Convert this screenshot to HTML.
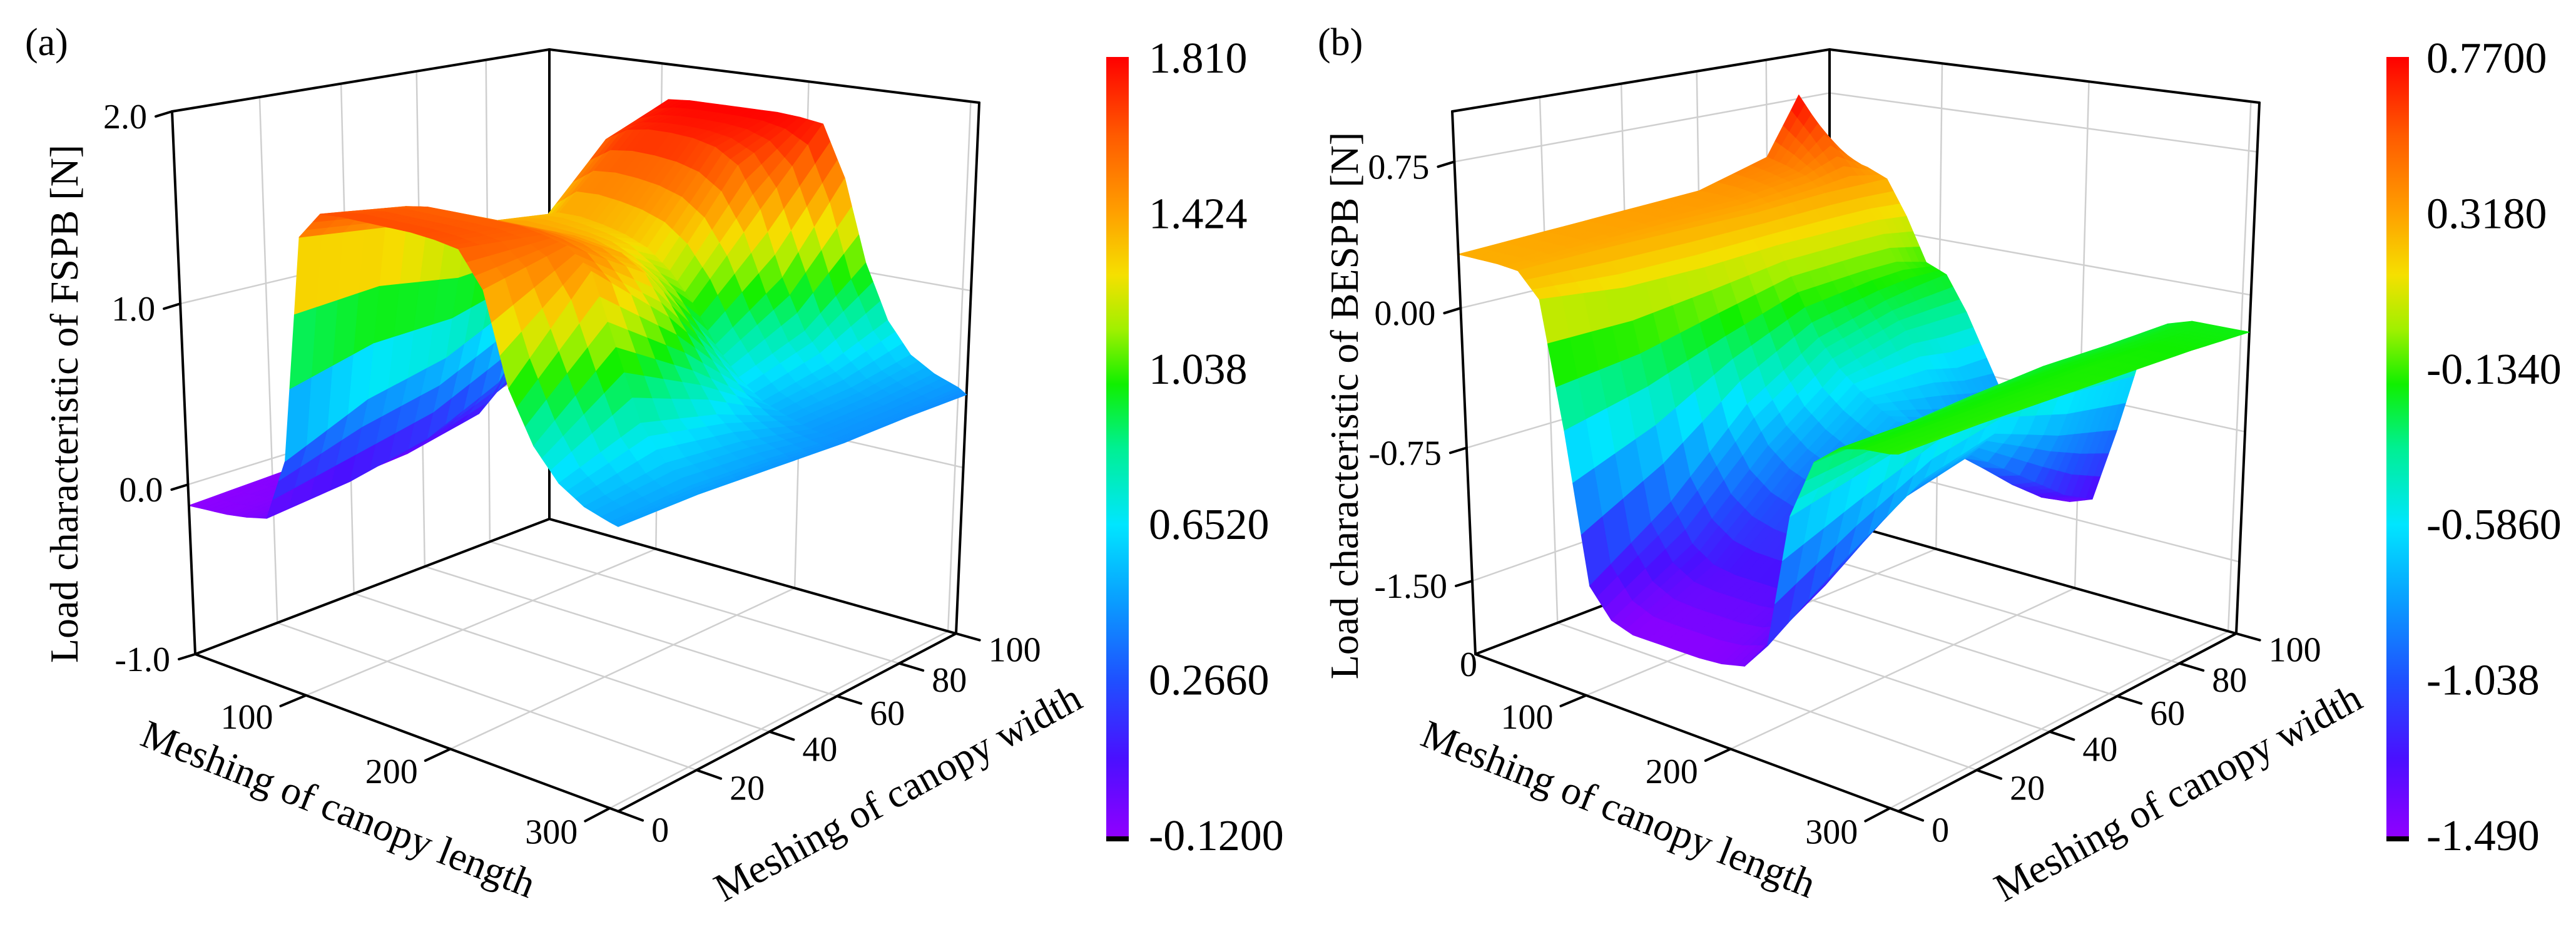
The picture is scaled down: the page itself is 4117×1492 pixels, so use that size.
<!DOCTYPE html>
<html><head><meta charset="utf-8"><style>
html,body{margin:0;padding:0;background:#fff;}
svg{display:block;font-family:"Liberation Serif",serif;}
text{font-family:"Liberation Serif",serif;}
</style></head><body>
<svg id="fig" width="4117" height="1492" viewBox="0 0 4117 1492" xmlns="http://www.w3.org/2000/svg" font-family="Liberation Serif, serif">
<defs>
<linearGradient id="cbar" x1="0" y1="1" x2="0" y2="0">
<stop offset="0" stop-color="#8f00ff"/><stop offset="0.1" stop-color="#4a10ff"/><stop offset="0.2" stop-color="#1f50ff"/><stop offset="0.3" stop-color="#0a9cff"/><stop offset="0.4" stop-color="#00e6ff"/><stop offset="0.5" stop-color="#00f090"/><stop offset="0.58" stop-color="#10f000"/><stop offset="0.65" stop-color="#a0f000"/><stop offset="0.72" stop-color="#f5e000"/><stop offset="0.8" stop-color="#ffa000"/><stop offset="0.9" stop-color="#ff5a00"/><stop offset="1" stop-color="#ff0000"/>
</linearGradient>
</defs>
<g id="panelA"></g>
<g id="panelB"></g>

<text x="40" y="88" font-size="62" font-family="Liberation Serif, serif">(a)</text>
<text x="2106" y="88" font-size="62" font-family="Liberation Serif, serif">(b)</text>

<text transform="translate(124,645) rotate(-90)" text-anchor="middle" font-size="64" font-family="Liberation Serif, serif">Load characteristic of FSPB [N]</text>
<text transform="translate(2170,648) rotate(-90)" text-anchor="middle" font-size="64" font-family="Liberation Serif, serif">Load characteristic of BESPB [N]</text>

<text transform="translate(533,1312) rotate(21.5)" text-anchor="middle" font-size="64" font-family="Liberation Serif, serif">Meshing of canopy length</text>
<text transform="translate(2579,1312) rotate(21.5)" text-anchor="middle" font-size="64" font-family="Liberation Serif, serif">Meshing of canopy length</text>
<text transform="translate(1445,1285) rotate(-28.5)" text-anchor="middle" font-size="64" font-family="Liberation Serif, serif">Meshing of canopy width</text>
<text transform="translate(3491,1285) rotate(-28.5)" text-anchor="middle" font-size="64" font-family="Liberation Serif, serif">Meshing of canopy width</text>

<g id="cbA">
<rect x="1768" y="91" width="36" height="1245" fill="url(#cbar)"/>
<rect x="1768" y="1336" width="36" height="8" fill="#000"/>
</g>
<g id="cbB">
<rect x="3814" y="91" width="36" height="1245" fill="url(#cbar)"/>
<rect x="3814" y="1336" width="36" height="8" fill="#000"/>
</g>
</svg>
<script>
// ---- data (panel a: FSPB) ----
const lengthGrid = [15,30,45,60,75,90,105,120,135,150,165,180,195,210,225,240,255,270,285,300,305];
const widthGridA = [0,20,40,60,80,100];
const fspbW0   = [-0.12,-0.11,-0.1,-0.08,-0.05,0.3,1.5,1.64,1.65,1.65,1.65,1.65,1.64,1.62,1.45,1.0,0.75,0.6,0.52,0.48,0.47];
const fspbW20  = [-0.1,-0.09,-0.08,-0.06,0.0,0.5,1.45,1.58,1.6,1.6,1.6,1.6,1.6,1.58,1.55,1.45,1.1,0.75,0.58,0.5,0.47];
const fspbW40  = [-0.08,-0.07,-0.05,-0.02,0.1,0.6,1.3,1.4,1.42,1.42,1.42,1.42,1.4,1.38,1.3,1.1,0.85,0.65,0.54,0.48,0.45];
const fspbW60  = [-0.05,-0.03,0.0,0.08,0.3,0.8,1.25,1.35,1.35,1.33,1.3,1.25,1.15,1.0,0.8,0.65,0.55,0.5,0.46,0.44,0.43];
const fspbW80  = [0.0,0.08,0.2,0.45,0.9,1.35,1.65,1.72,1.74,1.74,1.73,1.7,1.62,1.4,1.05,0.78,0.62,0.52,0.47,0.44,0.43];
const fspbW100 = [0.1,0.3,0.6,0.95,1.35,1.65,1.8,1.81,1.81,1.81,1.81,1.81,1.8,1.78,1.5,1.05,0.75,0.58,0.5,0.45,0.42];
// ---- data (panel b: BESPB) ----
const widthGridB = [0,20,40,60,80,90,100];
const bespbW0   = [0.28,0.28,0.28,0.27,0.15,-0.5,-1.3,-1.45,-1.49,-1.49,-1.49,-1.49,-1.48,-1.45,-1.3,-0.6,-0.3,-0.2,-0.17,-0.16,-0.15];
const bespbW20  = [0.3,0.3,0.3,0.28,0.1,-0.4,-1.0,-1.2,-1.28,-1.3,-1.3,-1.3,-1.28,-1.2,-1.0,-0.5,-0.28,-0.2,-0.17,-0.16,-0.15];
const bespbW40  = [0.32,0.32,0.32,0.28,0.1,-0.25,-0.6,-0.8,-0.9,-0.95,-0.97,-0.97,-0.95,-0.9,-0.75,-0.4,-0.25,-0.19,-0.17,-0.16,-0.16];
const bespbW60  = [0.34,0.34,0.33,0.28,0.12,-0.12,-0.35,-0.5,-0.6,-0.68,-0.74,-0.78,-0.8,-0.8,-0.65,-0.35,-0.23,-0.19,-0.17,-0.17,-0.17];
const bespbW80  = [0.45,0.42,0.38,0.3,0.12,-0.1,-0.25,-0.4,-0.6,-0.8,-0.95,-1.1,-1.15,-1.1,-0.8,-0.4,-0.24,-0.2,-0.18,-0.18,-0.18];
const bespbW90  = [0.77,0.62,0.45,0.3,0.12,-0.1,-0.22,-0.4,-0.65,-0.85,-1.05,-1.2,-1.3,-1.25,-0.85,-0.4,-0.24,-0.2,-0.19,-0.19,-0.19];
const bespbW100 = [0.4,0.38,0.35,0.3,0.1,-0.15,-0.2,-0.4,-0.65,-0.9,-1.1,-1.3,-1.4,-1.35,-0.9,-0.4,-0.24,-0.2,-0.2,-0.2,-0.2];
// ---- ticks ----
const zTicksA = [-1.0,0.0,1.0,2.0];
const zTickLabelsA = ["-1.0","0.0","1.0","2.0"];
const zTicksB = [-1.5,-0.75,0.0,0.75];
const zTickLabelsB = ["-1.50","-0.75","0.00","0.75"];
const lengthTicks = [100,200,300];
const widthTicks = [0,20,40,60,80,100];
const cbLabelsA = ["1.810","1.424","1.038","0.6520","0.2660","-0.1200"];
const cbLabelsB = ["0.7700","0.3180","-0.1340","-0.5860","-1.038","-1.490"];

const NS = "http://www.w3.org/2000/svg";
const FONT = "Liberation Serif, serif";
const stops = [[0,[143,0,255]],[0.1,[74,16,255]],[0.2,[31,80,255]],[0.3,[10,156,255]],[0.4,[0,230,255]],[0.5,[0,240,144]],[0.58,[16,240,0]],[0.65,[160,240,0]],[0.72,[245,224,0]],[0.8,[255,160,0]],[0.9,[255,90,0]],[1,[255,0,0]]];
function cmap(f){
  f=Math.max(0,Math.min(1,f));
  for(let i=1;i<stops.length;i++){
    if(f<=stops[i][0]){const a=stops[i-1],b=stops[i];const k=(f-a[0])/(b[0]-a[0]);
      return "rgb("+a[1].map((c,j)=>Math.round(c+(b[1][j]-c)*k)).join(",")+")";}
  }
  return "rgb(255,0,0)";
}
function mk(tag,attrs,parent){const e=document.createElementNS(NS,tag);for(const k in attrs)e.setAttribute(k,attrs[k]);parent.appendChild(e);return e;}

function makePanel(g, ox, rows, widthGrid, zmin, zmax, cmin, cmax, zTicks, zLabels, cbLabels, cbx, showZero){
  const F00=[312+ox,1045],F10=[988+ox,1296],F11=[1528+ox,1012],F01=[878+ox,829];
  const T00=[275+ox,178],T10=[988+ox,321],T11=[1565+ox,164],T01=[878+ox,79];
  function bl(A,B,C,D,su,sw){
    return [A[0]*(1-su)*(1-sw)+B[0]*su*(1-sw)+C[0]*su*sw+D[0]*(1-su)*sw,
            A[1]*(1-su)*(1-sw)+B[1]*su*(1-sw)+C[1]*su*sw+D[1]*(1-su)*sw];
  }
  function P(u,w,t){
    const su=u*(0.85+0.15*u), sw=w*(1.2-0.2*w);
    const b=bl(F00,F10,F11,F01,su,sw), tp=bl(T00,T10,T11,T01,su,sw);
    return [b[0]+(tp[0]-b[0])*t, b[1]+(tp[1]-b[1])*t];
  }
  function tz(z){const n=(z-zmin)/(zmax-zmin);return 0.906*n+0.094*n*n;}
  function uOf(L){return (L-lengthGrid[0])/(lengthGrid[lengthGrid.length-1]-lengthGrid[0]);}
  function wOf(W){return (W-widthGrid[0])/(widthGrid[widthGrid.length-1]-widthGrid[0]);}
  function line(p,q,stroke,sw,name){
    const l=mk("line",{x1:p[0].toFixed(1),y1:p[1].toFixed(1),x2:q[0].toFixed(1),y2:q[1].toFixed(1),stroke:stroke,"stroke-width":sw,"stroke-linecap":"round"},g);
    
    
    return l;
  }
  const grid="#cfcfcf";
  zTicks.forEach(z=>{const t=tz(z);
    line(P(0,0,t),P(0,1,t),grid,2.5,"left-wall-gridline");
    line(P(0,1,t),P(1,1,t),grid,2.5,"back-wall-gridline");});
  widthTicks.slice(1,-1).forEach(W=>{const w=wOf(W);
    line(P(0,w,0),P(0,w,1),grid,2.5,"left-wall-gridline");
    line(P(0,w,0),P(1,w,0),grid,2.5,"floor-gridline");});
  lengthTicks.forEach(L=>{const u=uOf(L);
    line(P(u,1,0),P(u,1,1),grid,2.5,"back-wall-gridline");
    line(P(u,0,0),P(u,1,0),grid,2.5,"floor-gridline");});
  const K="#000";
  line(P(0,1,0),P(0,1,1),K,4,"back-edge");
  line(P(1,1,0),P(1,1,1),K,4,"right-edge");
  line(P(0,0,1),P(0,1,1),K,4,"top-edge");
  line(P(0,1,1),P(1,1,1),K,4,"top-edge");
  line(P(0,0,0),P(0,1,0),K,4,"floor-edge");
  line(P(0,1,0),P(1,1,0),K,4,"floor-edge");
  // surface
  const nu=lengthGrid.length, nw=widthGrid.length;
  function seg(n,f){return Math.min(Math.floor(f),n-2);}
  function zAt(fi,fj){
    const i0=seg(nu,fi), j0=seg(nw,fj);
    const a=fi-i0,b=fj-j0;
    return rows[j0][i0]*(1-a)*(1-b)+rows[j0][i0+1]*a*(1-b)+rows[j0+1][i0+1]*a*b+rows[j0+1][i0]*(1-a)*b;
  }
  function gridVal(arr,n,f){const i=seg(n,f);return arr[i]+(f-i)*(arr[i+1]-arr[i]);}
  const SU=3,SW=4,quads=[];
  for(let i=0;i<nu-1;i++)for(let j=0;j<nw-1;j++)for(let a=0;a<SU;a++)for(let b=0;b<SW;b++){
    const fi0=i+a/SU,fi1=i+(a+1)/SU,fj0=j+b/SW,fj1=j+(b+1)/SW;
    const c=[[fi0,fj0],[fi1,fj0],[fi1,fj1],[fi0,fj1]];
    let zs=0;const pts=c.map(([fi,fj])=>{
      const L=gridVal(lengthGrid,nu,fi), W=gridVal(widthGrid,nw,fj);
      const z=zAt(fi,fj);zs+=z;return P(uOf(L),wOf(W),tz(z));});
    const uc=uOf(gridVal(lengthGrid,nu,(fi0+fi1)/2)), wc=wOf(gridVal(widthGrid,nw,(fj0+fj1)/2));
    quads.push({pts:pts,z:zs/4,d:(1-uc)+wc});
  }
  quads.sort((p,q)=>q.d-p.d);
  const sg=mk("g",{},g);
  
  
  quads.forEach(q=>{
    const col=cmap((q.z-cmin)/(cmax-cmin));
    const pg=mk("polygon",{points:q.pts.map(p=>p[0].toFixed(1)+","+p[1].toFixed(1)).join(" "),fill:col,stroke:col,"stroke-width":1.2,"stroke-linejoin":"round"},sg);
    
    
  });
  line(P(0,0,0),P(0,0,1),K,4,"z-axis-line");
  line(P(0,0,0),P(1,0,0),K,4,"length-axis-line");
  line(P(1,0,0),P(1,1,0),K,4,"width-axis-line");
  zTicks.forEach((z,k)=>{const p=P(0,0,tz(z));
    line([p[0]-26,p[1]+8],p,K,4,"z-tick");
    const tx=mk("text",{x:(p[0]-40).toFixed(1),y:(p[1]+27).toFixed(1),"text-anchor":"end","font-size":56,"font-family":FONT},g);
    
    
    tx.textContent=zLabels[k];});
  lengthTicks.forEach(L=>{const u=uOf(L);const p=P(u,0,0),q=P(u,-0.06,0);
    line(p,q,K,4,"length-tick");
    const tx=mk("text",{x:(q[0]-12).toFixed(1),y:(q[1]+36).toFixed(1),"text-anchor":"end","font-size":56,"font-family":FONT},g);
    
    
    tx.textContent=String(L);});
  widthTicks.forEach(W=>{const w=wOf(W);const p=P(1,w,0),q=P(1.05,w,0);
    line(p,q,K,4,"width-tick");
    const tx=mk("text",{x:(q[0]+14).toFixed(1),y:(q[1]+34).toFixed(1),"text-anchor":"start","font-size":56,"font-family":FONT},g);
    
    
    tx.textContent=String(W);});
  if(showZero){
    const tx=mk("text",{x:(ox+255+46).toFixed(1),y:"1080","text-anchor":"middle","font-size":56,"font-family":FONT},g);
    
    
    tx.textContent="0";
  }
  const cb=document.getElementById(cbx.id);
  cbLabels.forEach((s,k)=>{
    const tx=mk("text",{x:cbx.x,y:(92+k*248.4+24).toFixed(1),"font-size":70,"font-family":FONT},cb);
    
    
    tx.textContent=s;});
}
makePanel(document.getElementById("panelA"),0,[fspbW0,fspbW20,fspbW40,fspbW60,fspbW80,fspbW100],widthGridA,-1.0,2.0,-0.12,1.81,zTicksA,zTickLabelsA,cbLabelsA,{id:"cbA",x:1836},false);
makePanel(document.getElementById("panelB"),2046,[bespbW0,bespbW20,bespbW40,bespbW60,bespbW80,bespbW90,bespbW100],widthGridB,-1.93,1.0,-1.49,0.77,zTicksB,zTickLabelsB,cbLabelsB,{id:"cbB",x:3878},true);
</script>
</body></html>
